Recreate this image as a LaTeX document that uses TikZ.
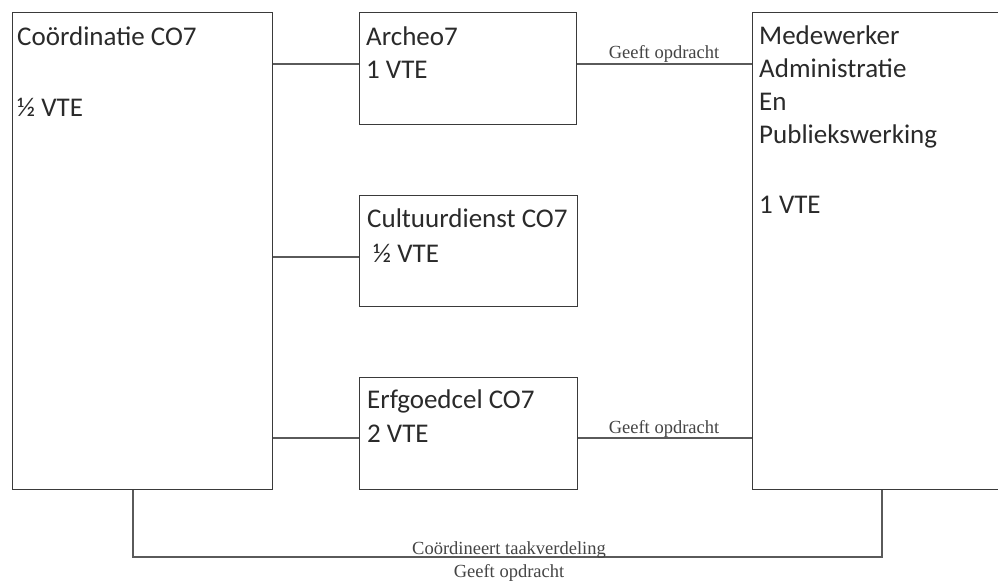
\documentclass[tikz,border=0pt]{standalone}
\usepackage{fontspec}
\setmainfont{Carlito}
\newfontfamily\lblfont{Liberation Serif}
\definecolor{boxgray}{HTML}{3A3A3A}
\definecolor{linegray}{HTML}{5A5A5A}
\definecolor{txtcol}{HTML}{2A2A2A}
\definecolor{lblcol}{HTML}{444444}
\begin{document}
\begin{tikzpicture}[x=1pt,y=-1pt,
  box/.style={draw=boxgray, line width=1.4pt, inner sep=0pt, anchor=north west, fill=white},
  conn/.style={draw=linegray, line width=1.3pt},
  txt/.style={anchor=base west, inner sep=0pt, text=txtcol, font=\fontsize{27}{33}\selectfont},
  lbl/.style={anchor=base, inner sep=0pt, text=lblcol, font=\lblfont\fontsize{18.5}{20}\selectfont}]
\useasboundingbox (0,0) rectangle (998,584);
\clip (0,0) rectangle (998,584);

% boxes
\node[box, minimum width=260pt, minimum height=477pt] (coord) at (12,12) {};
\node[box, minimum width=217pt, minimum height=112pt] (arch) at (359,12) {};
\node[box, minimum width=218pt, minimum height=111pt] (cult) at (359,195) {};
\node[box, minimum width=218pt, minimum height=112pt] (erf) at (359,377) {};
\node[box, minimum width=270pt, minimum height=477pt] (med) at (752,12) {};

% helper coordinates
\coordinate (ya) at (0,64);
\coordinate (yc) at (0,257);
\coordinate (ye) at (0,438);
\coordinate (bl) at (133,557);
\coordinate (br) at (882,557);

% connectors
\draw[conn] (coord.east |- ya) -- (arch.west |- ya);
\draw[conn] (coord.east |- yc) -- (cult.west |- yc);
\draw[conn] (coord.east |- ye) -- (erf.west |- ye);
\draw[conn] (arch.east |- ya) -- (med.west |- ya);
\draw[conn] (erf.east |- ye) -- (med.west |- ye);
\draw[conn] (coord.south -| bl) -- (bl) -- (br) -- (med.south -| br);

% connector labels
\node[lbl] (l1) at (664,58) {Geeft opdracht};
\node[lbl] (l2) at (664,433) {Geeft opdracht};
\node[lbl] (l3) at (509,554.5) {Coördineert taakverdeling};
\node[lbl] (l4) at (509,577) {Geeft opdracht};

% box texts
\node[txt] (t1a) at (17,45) {Coördinatie CO7};
\node[txt] (t1b) at (17,116) {½ VTE};
\node[txt] (t2a) at (366,45) {Archeo7};
\node[txt] (t2b) at (366,78) {1 VTE};
\node[txt] (t3a) at (367,227) {Cultuurdienst CO7};
\node[txt] (t3b) at (373,262) {½ VTE};
\node[txt] (t4a) at (367,408) {Erfgoedcel CO7};
\node[txt] (t4b) at (367,442) {2 VTE};
\node[txt] (t5a) at (759,44) {Medewerker};
\node[txt] (t5b) at (759,77) {Administratie};
\node[txt] (t5c) at (759,110) {En};
\node[txt] (t5d) at (759,143) {Publiekswerking};
\node[txt] (t5e) at (759,213) {1 VTE};
\end{tikzpicture}
\end{document}
